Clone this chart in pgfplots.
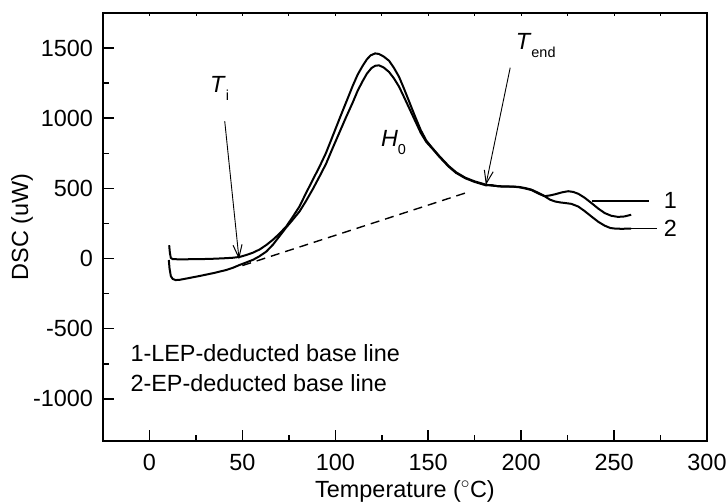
\documentclass[border=0pt]{standalone}
\usepackage{fontspec}
\setmainfont{Liberation Sans}
\usepackage{pgfplots}
\pgfplotsset{compat=1.18}
\usetikzlibrary{arrows.meta}

\begin{document}
\fontsize{23.5}{28}\selectfont
\begin{tikzpicture}
\useasboundingbox (-103bp,-62bp) rectangle (625bp,441bp);
\begin{axis}[
  at={(0,0)}, anchor=south west,
  scale only axis, width=604bp, height=428bp,
  xmin=-25, xmax=300, ymin=-1300, ymax=1750,
  xtick={0,50,...,300}, ytick={-1000,-500,...,1500},
  minor x tick num=1, minor y tick num=1,
  tick align=inside, xtick pos=left, ytick pos=left,
  major tick length=11bp, minor tick length=6bp,
  axis line style={line width=1.8bp},
  every tick/.style={line width=1.5bp, black},
  extra x ticks={-25,0,25,...,300},
  extra x tick labels={},
  extra x tick style={xtick pos=right, major tick length=3bp, every tick/.style={line width=0.8bp, black}},
  /pgf/number format/assume math mode=true,
  /pgf/number format/1000 sep={},
  ticklabel style={font=\fontsize{23.5}{28}\selectfont},
  xticklabel style={yshift=-5bp},
  yticklabel style={xshift=-2bp},
  label style={font=\fontsize{23.5}{28}\selectfont},
  xlabel={Temperature ($^{\circ}$C)}, ylabel={DSC (uW)},
  xlabel style={at={(axis description cs:0.5,-0.1168)}, anchor=center},
  ylabel style={at={(axis description cs:-0.134,0.5)}, anchor=center},
  clip=false,
]
% curve 1
\addplot[black, line width=2bp] coordinates {
(10.6,95) (11.0,40) (11.5,5) (12.5,-4) (15,-5) (20,-5) (25,-4) (30,-3) (35,-1)
(40,2) (45,6) (48.6,12) (52,25) (55.7,42) (59.3,65) (62.9,97) (66.4,134) (70,178)
(73.6,229) (77,295) (80.7,371) (84,460) (87.9,562) (91.5,655) (95,753) (98.5,870)
(102.1,991) (105.7,1110) (109.3,1229) (112,1310) (114.6,1371) (117,1420) (119,1448)
(121.4,1462) (123.5,1458) (126,1440) (128.9,1410) (131.5,1360) (134.3,1295) (137,1210)
(140,1110) (143,1010) (146,915) (149,840) (152.1,790) (156,730) (161,660) (165,615)
(170,576) (175,550) (181,527) (184,520) (188,516) (192,514) (196,513) (199,510)
(202,503) (205.6,491) (209,470) (212.8,445) (215.5,450) (218.2,458) (222,472)
(225.3,480) (228,475) (230.7,462) (234,435) (237.8,396) (241.5,356) (245,324)
(248.5,305) (252.1,297) (255.5,300) (259.2,312)
};
% curve 2
\addplot[black, line width=2bp] coordinates {
(10.4,-10) (10.8,-70) (11.5,-125) (12.5,-145) (14,-153) (16,-152) (20,-142) (27,-124)
(35,-102) (41.4,-81) (45,-65) (48.6,-45) (52,-28) (55.7,-9) (59,15) (62.9,50)
(66.5,100) (70,160) (73.6,222) (77,275) (80.7,335) (84,405) (87.9,495) (91.5,585)
(95,675) (98.5,785) (102.1,895) (105.7,1005) (109.3,1110) (112,1195) (114.6,1262)
(117,1318) (119.5,1358) (121.5,1374) (123.5,1377) (126,1362) (128.9,1330) (131.5,1285)
(134.3,1225) (137,1150) (140,1065) (143,980) (146,895) (149,830) (152.1,785) (156,725)
(161,655) (165,610) (170,572) (175,546) (181,522) (184,524) (188,514) (192,512)
(196,512) (199,508) (202,500) (205.6,488) (209,465) (212.8,443) (215.5,420) (218.2,407)
(221,400) (223.6,396) (227,390) (230.7,371) (234,340) (237.8,300) (241.5,262) (245,234)
(248,218) (250.3,214) (254,212) (259.2,214)
};
% dashed base line
\addplot[black, line width=1.4bp, dash pattern=on 9bp off 6bp] coordinates {(50,-50) (172,476)};
% legend lines
\addplot[black, line width=1.5bp] coordinates {(238,412) (269,412)};
\addplot[black, line width=1.5bp] coordinates {(259,214) (273,214)};

\node[anchor=center] at (axis cs:280.3,412) {1};
\node[anchor=center] at (axis cs:280.3,214) {2};

\node[anchor=base west, inner sep=0] at (axis cs:32.6,1181) {\textit{T}\raisebox{-8bp}{\fontsize{14.5}{14.5}\selectfont i}};
\node[anchor=base west, inner sep=0] at (axis cs:124.5,796) {\textit{H}\raisebox{-8bp}{\fontsize{14.5}{14.5}\selectfont 0}};
\node[anchor=base west, inner sep=0] at (axis cs:197,1491) {\textit{T}\raisebox{-8bp}{\fontsize{14.5}{14.5}\selectfont end}};

\draw[black, line width=0.9bp, -{Straight Barb[length=13bp, width=9bp, line width=1bp]}] (axis cs:40.5,979) -- (axis cs:48.2,-5);
\draw[black, line width=0.9bp, -{Straight Barb[length=13bp, width=9bp, line width=1bp]}] (axis cs:194.1,1360) -- (axis cs:181,524);

\node[anchor=west, inner sep=0] at (axis cs:-10.3,-673) {1-LEP-deducted base line};
\node[anchor=west, inner sep=0] at (axis cs:-10.3,-888) {2-EP-deducted base line};
\end{axis}
\end{tikzpicture}
\end{document}
